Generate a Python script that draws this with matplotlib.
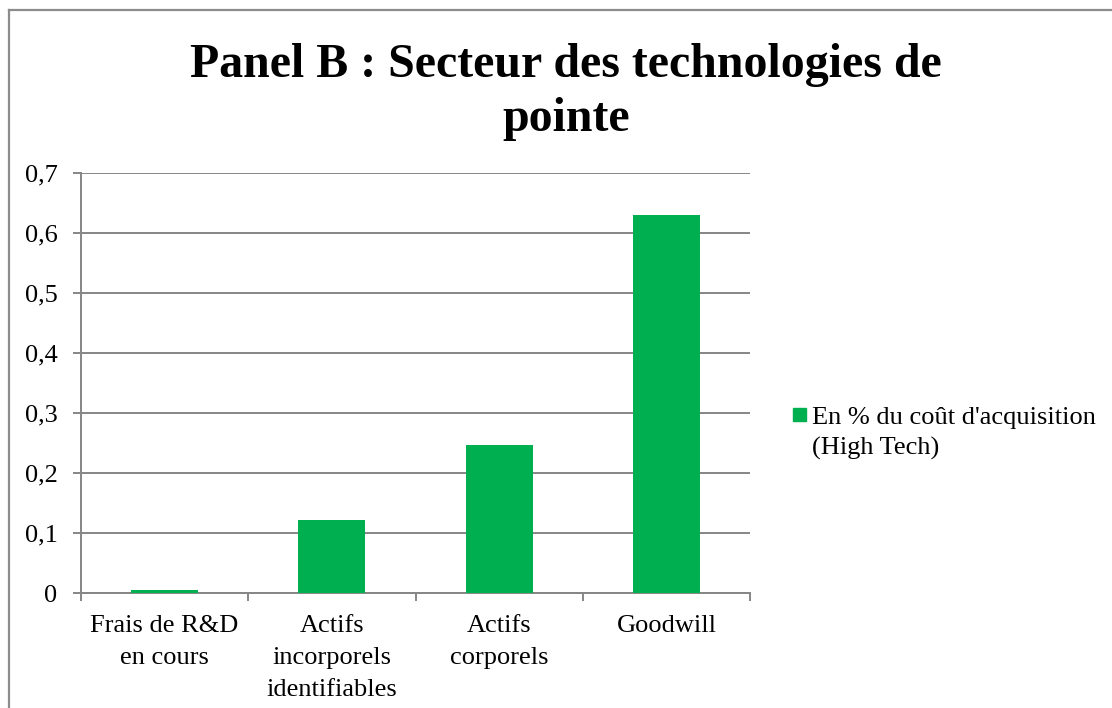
import matplotlib
matplotlib.use("Agg")
import matplotlib.pyplot as plt
from matplotlib.lines import Line2D
from matplotlib.patches import Rectangle
from matplotlib.ticker import FuncFormatter

# donnees
categories = ["Frais de R&D\nen cours", "Actifs\nincorporels\nidentifiables",
              "Actifs\ncorporels", "Goodwill"]
valeurs = [0.005, 0.122, 0.247, 0.630]
serie = "En % du coût d'acquisition"
serie_suite = "(High Tech)"
titre = "Panel B : Secteur des technologies de\npointe"

plt.rcParams['font.family'] = ['Liberation Serif', 'DejaVu Serif']

W, H = 1112, 708
fig = plt.figure(figsize=(W / 100, H / 100), dpi=100)

# cadre exterieur (haut et gauche seulement)
fig.add_artist(Line2D([8.5 / W, 1], [1 - 9.5 / H] * 2, transform=fig.transFigure,
                      color='#8c8c8c', lw=1.6))
fig.add_artist(Line2D([8.5 / W] * 2, [0, 1 - 9.5 / H], transform=fig.transFigure,
                      color='#8c8c8c', lw=1.6))

ax = fig.add_axes([81 / W, (H - 593) / H, (750 - 81) / W, (593 - 173) / H])

x = list(range(len(categories)))
ax.bar(x, valeurs, width=0.4, color='#00B050', zorder=3)

ax.set_xlim(-0.5, len(categories) - 0.5)
ax.set_ylim(0, 0.7)
ax.set_yticks([i / 10 for i in range(8)])
ax.yaxis.set_major_formatter(FuncFormatter(lambda v, p: ('%g' % round(v, 1)).replace('.', ',')))
ax.yaxis.grid(True, color='#868686', lw=1.4, zorder=0)

# ticks x aux limites des categories, etiquettes au centre
ax.set_xticks([i - 0.5 for i in range(len(categories) + 1)])
ax.set_xticklabels([])
ax.set_xticks(x, minor=True)
ax.set_xticklabels(categories, minor=True, fontsize=19, linespacing=1.57, va='top')
ax.tick_params(axis='x', which='minor', length=0, pad=16)
ax.tick_params(axis='x', which='major', length=6, width=1.4, color='#868686')
ax.tick_params(axis='y', length=6, width=1.4, color='#868686', labelsize=19, pad=11)

for s in ['top', 'right']:
    ax.spines[s].set_visible(False)
for s in ['left', 'bottom']:
    ax.spines[s].set_color('#868686')
    ax.spines[s].set_linewidth(1.4)

# titre
fig.text(566 / W, 1 - 92 / H, titre, ha='center', va='center', fontsize=34.5,
         fontweight='bold', linespacing=1.32)

# legende
fig.add_artist(Rectangle((793 / W, 1 - 421 / H), 13 / W, 13 / H, transform=fig.transFigure,
                         color='#00B050'))
fig.text(812 / W, 1 - 407 / H, serie + "\n" + serie_suite, ha='left', va='top',
         fontsize=19, linespacing=1.47)

fig.savefig("out.png", dpi=100)
